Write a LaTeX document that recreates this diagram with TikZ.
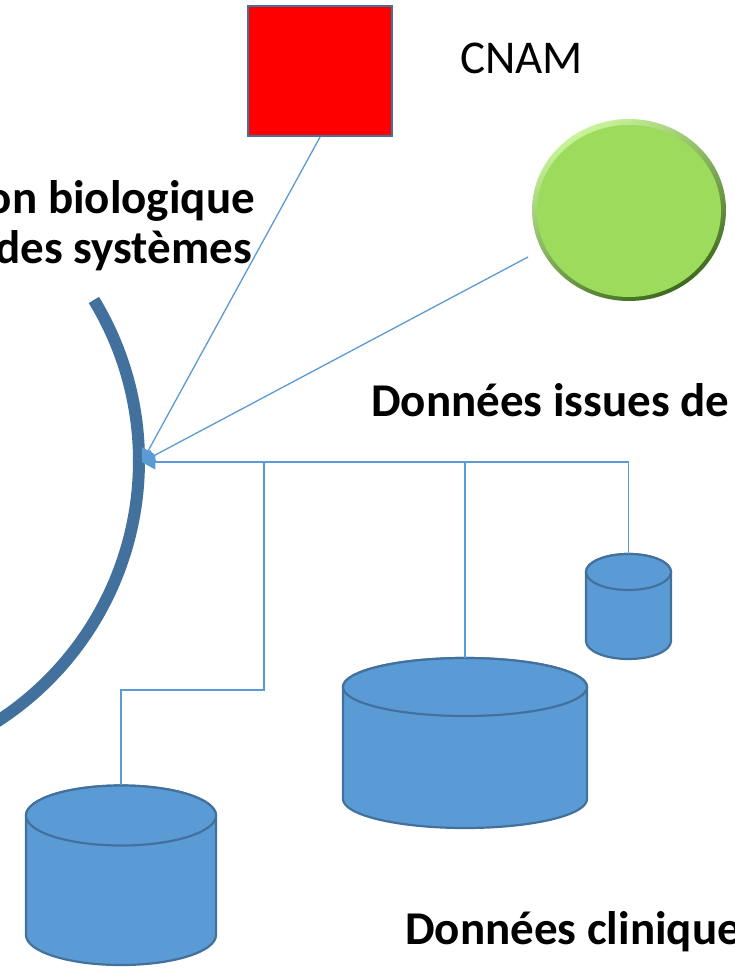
\documentclass[tikz,border=0pt]{standalone}
\usepackage{fontspec}
\setmainfont{Carlito}
\usetikzlibrary{arrows.meta,shapes.geometric}

\definecolor{dbfill}{HTML}{5B9BD5}
\definecolor{dbline}{HTML}{41719C}
\definecolor{linkblue}{HTML}{5B9BD5}
\definecolor{ringblue}{HTML}{41719C}
\definecolor{ballgreen}{HTML}{9CDB5B}
\definecolor{balllight}{HTML}{C8F59A}
\definecolor{balldark}{HTML}{3F6A1E}

\tikzset{
  link/.style={draw=linkblue, line width=1.3pt, -{Triangle[length=13pt,width=14pt]}},
  dbbody/.style={fill=dbfill, draw=dbline, line width=2.2pt, line join=round},
  ringline/.style={draw=ringblue, line width=12pt},
  boldlabel/.style={inner sep=0pt, font=\bfseries\fontsize{47}{56}\selectfont},
  plainlabel/.style={inner sep=0pt, font=\fontsize{47}{56}\selectfont},
}

% database cylinder: centre x, x radius, top ellipse y, bottom ellipse y, y radius
\newcommand\dbcylinder[5]{%
  \path[dbbody] (#1-#2,#3) -- (#1-#2,#4)
    arc[start angle=180,end angle=360,x radius=#2,y radius=#5]
    -- (#1+#2,#3)
    arc[start angle=0,end angle=180,x radius=#2,y radius=#5] -- cycle;
  \draw[dbbody] (#1,#3) ellipse[x radius=#2,y radius=#5];}

\begin{document}
\begin{tikzpicture}[x=1pt,y=1pt]
\useasboundingbox (0,0) rectangle (735,-969);
\clip (0,0) rectangle (735,-969);
\fill[white] (0,0) rectangle (735,-969);

% large ring on the left
\draw[ringline] ([shift={(31.3:310)}]-171,-461) arc[start angle=31.3,end angle=-75,radius=310];

% red square and green bevelled ball
\node[draw=dbline, line width=2.2pt, fill=red, minimum width=144pt, minimum height=130pt, inner sep=0pt]
  (cnam) at (320,-71) {};
\node[ellipse, minimum width=194pt, minimum height=182pt, inner sep=0pt,
      top color=balllight, bottom color=balldark, shading angle=30] (ball) at (629,-210) {};
\node[ellipse, minimum width=184pt, minimum height=172pt, inner sep=0pt, fill=ballgreen] (ballface) at (629,-211) {};

% databases
\dbcylinder{628.5}{42.5}{-572}{-641}{18}
\dbcylinder{465}{122}{-687}{-799}{29}
\dbcylinder{121}{95}{-815.5}{-935}{30}

\coordinate (dbsmall) at (628.5,-554);
\coordinate (dbmid) at (465,-658);
\coordinate (dbbig) at (121,-785);
\coordinate (bend) at (264,-690);
\coordinate (balltail) at (528,-257);
\coordinate (hub) at (142,-462);

% connectors to the ring
\draw[link] (cnam.south) -- (hub);
\draw[link] (balltail) -- (hub);
\draw[link] (dbsmall) |- (hub);
\draw[link] (dbmid) |- (hub);
\draw[link] (dbbig) |- (bend) |- (hub);

% labels
\node[plainlabel, anchor=base west] (lcnam) at (460,-73) {CNAM};
\node[boldlabel, anchor=base east] (lbio) at (255,-213) {on biologique};
\node[boldlabel, anchor=base east] (lsys) at (252,-263) {des systèmes};
\node[boldlabel, anchor=base west] (lissues) at (371,-416) {Données issues de};
\node[boldlabel, anchor=base west] (lclin) at (405,-944) {Données clinique};
\end{tikzpicture}
\end{document}
